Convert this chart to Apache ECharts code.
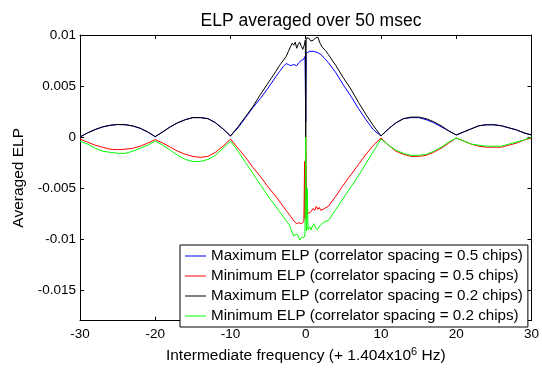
<!DOCTYPE html>
<html>
<head>
<meta charset="utf-8">
<script src="https://cdn.jsdelivr.net/npm/echarts/dist/echarts.min.js"></script>
<style>
    body { margin: 0; background: #fff; }
    #elp-chart { width: 542px; height: 369px; }
</style>
</head>
<body>
<div id="elp-chart"></div>
<script>
/************************** data **************************/
xTicks = [-30, -20, -10, 0, 10, 20, 30];
yTicks = [-0.015, -0.01, -0.005, 0, 0.005, 0.01];

seriesNames = [
    'Maximum ELP (correlator spacing = 0.5 chips)',
    'Minimum ELP (correlator spacing = 0.5 chips)',
    'Maximum ELP (correlator spacing = 0.2 chips)',
    'Minimum ELP (correlator spacing = 0.2 chips)'
];
seriesColors = ['#0000ff', '#ff0000', '#000000', '#00ff00'];

// [frequency offset, averaged ELP]
maxElp05 = [
    [-30, 0], [-29, 0.0004], [-28, 0.00072], [-27, 0.00098], [-26, 0.00114], [-25, 0.00122],
    [-24, 0.0012], [-23, 0.00108], [-22, 0.00085], [-21, 0.00048], [-20, 0.00003],
    [-19, 0.0005], [-18, 0.001], [-17, 0.0014], [-16, 0.0017], [-15, 0.0019], [-14, 0.0019],
    [-13, 0.0018], [-12, 0.0014], [-11, 0.0008], [-10, 0.0001],
    [-9, 0.0009], [-8, 0.0019], [-7, 0.0029], [-6, 0.0038], [-5, 0.0048], [-4, 0.0059],
    [-3.5, 0.0064], [-3, 0.0069], [-2.6, 0.0072], [-2.3, 0.0071], [-2, 0.007], [-1.6, 0.0071],
    [-1.2, 0.007], [-0.9, 0.0073], [-0.6, 0.0075], [-0.3, 0.0076], [-0.1, 0.0079], [0, 0.0015],
    [0.05, 0.0082], [0.5, 0.0084], [1, 0.0084], [1.5, 0.0083], [2, 0.0081], [2.5, 0.0077],
    [3, 0.0073], [4, 0.0063], [5, 0.0051], [6, 0.004], [7, 0.0028], [8, 0.0017], [9, 0.0007], [10, 0.0001],
    [11, 0.0008], [12, 0.0014], [13, 0.0018], [14, 0.0019], [15, 0.0019], [16, 0.0017],
    [17, 0.0014], [18, 0.001], [19, 0.0006], [20, 0.0002],
    [21, 0.0005], [22, 0.0008], [23, 0.0011], [24, 0.0012], [25, 0.0012], [26, 0.0011],
    [27, 0.0009], [28, 0.0007], [29, 0.0004], [30, 0.0002]
];

minElp05 = [
    [-30, -0.0002], [-29, -0.0005], [-28, -0.0008], [-27, -0.001], [-26, -0.0012], [-25, -0.00124],
    [-24, -0.0012], [-23, -0.0011], [-22, -0.0009], [-21, -0.0006], [-20, -0.00025],
    [-19, -0.0006], [-18, -0.001], [-17, -0.0014], [-16, -0.0017], [-15, -0.0019], [-14, -0.002],
    [-13, -0.0019], [-12, -0.0015], [-11, -0.0009], [-10, -0.0002],
    [-9, -0.0011], [-8, -0.002], [-7, -0.003], [-6, -0.0039], [-5, -0.0049], [-4, -0.0058],
    [-3, -0.0068], [-2.5, -0.0073], [-2, -0.0078], [-1.5, -0.0083], [-1.2, -0.0085], [-0.9, -0.0084],
    [-0.6, -0.0085], [-0.4, -0.0084], [-0.25, -0.0083], [-0.15, -0.0024], [-0.1, -0.008], [0, 0],
    [0.1, -0.005], [0.2, -0.0075], [0.4, -0.0076], [0.6, -0.0074], [0.8, -0.0075], [1, -0.007],
    [1.2, -0.0072], [1.4, -0.0068], [1.6, -0.0071], [1.8, -0.0069], [2, -0.0072], [2.5, -0.007],
    [3, -0.0068], [4, -0.0058], [5, -0.0047], [6, -0.0037], [7, -0.0027], [8, -0.0017], [9, -0.0008], [10, -0.0001],
    [11, -0.0008], [12, -0.0014], [13, -0.0017], [14, -0.0019], [15, -0.0019], [16, -0.0018],
    [17, -0.0015], [18, -0.0011], [19, -0.0006], [20, -0.0001],
    [21, -0.0004], [22, -0.0007], [23, -0.0009], [24, -0.001], [25, -0.001], [26, -0.001],
    [27, -0.0008], [28, -0.0006], [29, -0.0003], [30, -0.0001]
];

maxElp02 = [
    [-30, 0], [-29, 0.0004], [-28, 0.00073], [-27, 0.001], [-26, 0.00115], [-25, 0.00123],
    [-24, 0.00121], [-23, 0.00109], [-22, 0.00086], [-21, 0.0005], [-20, 0.00004],
    [-19, 0.0005], [-18, 0.001], [-17, 0.0014], [-16, 0.0017], [-15, 0.0019], [-14, 0.0019],
    [-13, 0.0018], [-12, 0.0014], [-11, 0.0008], [-10, 0.0001],
    [-9, 0.001], [-8, 0.002], [-7, 0.003], [-6, 0.0042], [-5, 0.0053], [-4, 0.0064],
    [-3.5, 0.007], [-3, 0.0075], [-2.6, 0.0079], [-2.3, 0.0084], [-2, 0.0089], [-1.8, 0.0092],
    [-1.6, 0.009], [-1.4, 0.0093], [-1.2, 0.0087], [-1, 0.0091], [-0.8, 0.0093], [-0.6, 0.0089],
    [-0.4, 0.0086], [-0.2, 0.009], [-0.05, 0.0095], [0, 0],
    [0.05, 0.0097], [0.4, 0.0097], [0.7, 0.0094], [1, 0.0095], [1.3, 0.0097], [1.6, 0.0098],
    [1.9, 0.0092], [2.2, 0.0088], [2.6, 0.0085], [3, 0.0081], [4, 0.007], [5, 0.0058],
    [6, 0.0047], [7, 0.0034], [8, 0.0022], [9, 0.0011], [10, 0.0001],
    [11, 0.0008], [12, 0.0014], [13, 0.0018], [14, 0.00195], [15, 0.00195], [16, 0.0018],
    [17, 0.0015], [18, 0.0011], [19, 0.0006], [20, 0.0002],
    [21, 0.0005], [22, 0.0008], [23, 0.0011], [24, 0.0012], [25, 0.0012], [26, 0.0011],
    [27, 0.0009], [28, 0.0007], [29, 0.0004], [30, 0.0002]
];

minElp02 = [
    [-30, -0.0004], [-29, -0.0007], [-28, -0.0011], [-27, -0.0014], [-26, -0.0015], [-25, -0.0016],
    [-24, -0.0016], [-23, -0.0014], [-22, -0.0011], [-21, -0.0008], [-20, -0.0004],
    [-19, -0.0008], [-18, -0.0013], [-17, -0.0018], [-16, -0.0022], [-15, -0.0024], [-14, -0.0024],
    [-13, -0.0022], [-12, -0.0018], [-11, -0.0011], [-10, -0.0004],
    [-9, -0.0014], [-8, -0.0025], [-7, -0.0036], [-6, -0.0047], [-5, -0.0058], [-4, -0.0068],
    [-3.5, -0.0073], [-3, -0.0078], [-2.5, -0.0083], [-2.2, -0.0086], [-2, -0.009], [-1.8, -0.0091],
    [-1.6, -0.0097], [-1.4, -0.0098], [-1.2, -0.0095], [-1, -0.0097], [-0.8, -0.0101], [-0.6, -0.0099],
    [-0.4, -0.01], [-0.2, -0.0098], [-0.1, -0.0095], [0, 0],
    [0.1, -0.0092], [0.2, -0.005], [0.3, -0.0091], [0.5, -0.0088], [0.7, -0.0091], [0.9, -0.0087],
    [1.1, -0.0085], [1.3, -0.0089], [1.5, -0.0091], [1.7, -0.009], [2, -0.0086], [2.5, -0.0083],
    [3, -0.0082], [4, -0.0071], [5, -0.006], [6, -0.0049], [7, -0.0038], [8, -0.0026], [9, -0.0014], [10, -0.0002],
    [11, -0.0008], [12, -0.0013], [13, -0.0016], [14, -0.0018], [15, -0.0018], [16, -0.0017],
    [17, -0.0014], [18, -0.001], [19, -0.0005], [20, -0.0001],
    [21, -0.0004], [22, -0.0007], [23, -0.0008], [24, -0.0009], [25, -0.0009], [26, -0.0009],
    [27, -0.0007], [28, -0.0005], [29, -0.0003], [30, 0]
];

allSeries = [maxElp05, minElp05, maxElp02, minElp02];

/************************** chart **************************/
fontFamily = '"Liberation Sans", Arial, sans-serif';

function tickLabel(v) {
    return String(+Number(v).toFixed(4));
}

// plain frame axis (MATLAB style box, ticks inside)
function frameAxis(pos, isX) {
    var ax = {
        type: 'value',
        position: pos,
        min: isX ? -30 : -0.018,
        max: isX ? 30 : 0.01,
        axisLine: { show: true, onZero: false, lineStyle: { color: '#000', width: 1 } },
        axisTick: { show: true, inside: true, length: 4, lineStyle: { color: '#000' } },
        axisLabel: { show: false },
        splitLine: { show: false }
    };
    if (isX) {
        ax.interval = 10;
    } else {
        ax.axisTick.customValues = yTicks;
        ax.axisLabel.customValues = yTicks;
    }
    return ax;
}

xBottom = frameAxis('bottom', true);
xBottom.axisLabel = { show: true, color: '#000', fontSize: 13.5, fontFamily: fontFamily, margin: 7,
    formatter: tickLabel, customValues: xTicks };
xBottom.name = '{a|Intermediate frequency (+ 1.404x10}{s|6}{a| Hz)}';
xBottom.nameLocation = 'middle';
xBottom.nameGap = 24;
xBottom.nameTextStyle = {
    rich: {
        a: { fontSize: 15.5, color: '#000', fontFamily: fontFamily },
        s: { fontSize: 11, color: '#000', fontFamily: fontFamily, padding: [0, 0, 8, 0] }
    }
};

yLeft = frameAxis('left', false);
yLeft.axisLabel = { show: true, color: '#000', fontSize: 13.5, fontFamily: fontFamily, margin: 4,
    formatter: tickLabel, customValues: yTicks };
yLeft.name = 'Averaged ELP';
yLeft.nameLocation = 'middle';
yLeft.nameRotate = 90;
yLeft.nameGap = 51;
yLeft.nameTextStyle = { fontSize: 15.5, color: '#000', fontFamily: fontFamily };

optionElp = {
    animation: false,
    backgroundColor: '#fff',
    title: {
        text: 'ELP averaged over 50 msec',
        left: 306,
        top: 7,
        textAlign: 'center',
        textStyle: { fontSize: 17.5, fontWeight: 'normal', color: '#000', fontFamily: fontFamily }
    },
    grid: { left: 80, right: 9, top: 35, bottom: 40 },
    legend: {
        data: seriesNames,
        orient: 'vertical',
        left: 180,
        top: 245,
        padding: [1, 5, 1, 5],
        icon: 'rect',
        itemWidth: 21,
        itemHeight: 1,
        itemGap: 0,
        backgroundColor: '#fff',
        borderColor: '#000',
        borderWidth: 1,
        borderRadius: 0,
        textStyle: { fontSize: 15.2, lineHeight: 20, color: '#000', fontFamily: fontFamily }
    },
    xAxis: [xBottom, frameAxis('top', true)],
    yAxis: [yLeft, frameAxis('right', false)],
    series: allSeries.map(function (d, i) {
        return {
            name: seriesNames[i],
            type: 'line',
            xAxisIndex: 0,
            yAxisIndex: 0,
            data: d,
            symbol: 'none',
            lineStyle: { color: seriesColors[i], width: 1 },
            itemStyle: { color: seriesColors[i] },
            z: 2 + i
        };
    })
};

elpChart = echarts.init(document.getElementById('elp-chart'));
elpChart.setOption(optionElp);
</script>
</body>
</html>
